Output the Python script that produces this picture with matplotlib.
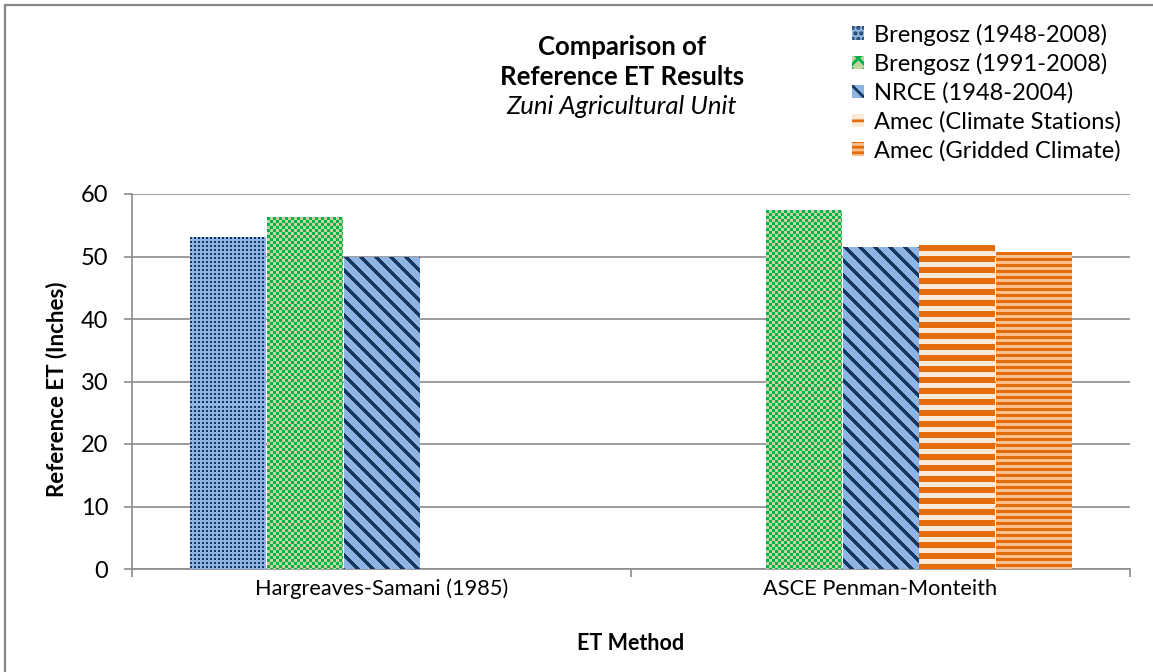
import numpy as np
import matplotlib.pyplot as plt
import matplotlib.colors as mcolors
from matplotlib.patches import Rectangle

plt.rcParams['font.family'] = ['Lato', 'DejaVu Sans']
plt.rcParams['hatch.linewidth'] = 2.0

# data
categories = ["Hargreaves-Samani (1985)", "ASCE Penman-Monteith"]
series_names = ["Brengosz (1948-2008)", "Brengosz (1991-2008)", "NRCE (1948-2004)",
                "Amec (Climate Stations)", "Amec (Gridded Climate)"]
brengosz_4808 = [53.0, np.nan]
brengosz_9108 = [56.3, 57.3]
nrce_4804 = [49.9, 51.5]
amec_stations = [np.nan, 51.8]
amec_gridded = [np.nan, 50.7]
values = [brengosz_4808, brengosz_9108, nrce_4804, amec_stations, amec_gridded]

# fill patterns: (light colour, dark colour, pattern kind, legend hatch)
styles = [
    ("#8db4e2", "#17375e", "dots", "..."),
    ("#c3d69b", "#00b050", "checker", "xx"),
    ("#8db4e2", "#17375e", "diag", "\\"),
    ("#fde9d9", "#e46c0a", "wide", "--"),
    ("#fac090", "#e46c0a", "narrow", "---"),
]


def pattern(kind, h, w, light, dark):
    r, c = np.mgrid[0:h, 0:w]
    if kind == "dots":
        mask = (r % 4 < 2) & (c % 4 < 2)
    elif kind == "checker":
        mask = (r // 3 + c // 3) % 2 == 0
    elif kind == "diag":
        mask = (c - r) % 15 < 5
    elif kind == "wide":
        mask = r % 11 < 6
    else:
        mask = r % 6 < 3
    lo = np.array(mcolors.to_rgb(light))
    hi = np.array(mcolors.to_rgb(dark))
    return np.where(mask[..., None], hi, lo)


fig = plt.figure(figsize=(11.53, 6.72), dpi=100)
ax = fig.add_axes([132 / 1153, 1 - 569 / 672, (1130 - 132) / 1153, (569 - 194) / 672])
ax.set_xlim(-0.5, 1.5)
ax.set_ylim(0, 60)

x = np.arange(len(categories))
w = 0.154
all_bars = []
for i, (name, vals) in enumerate(zip(series_names, values)):
    light, dark, kind, hatch = styles[i]
    plt.rcParams['hatch.color'] = dark
    bars = ax.bar(x + (i - 2) * w, vals, width=w * 0.985, color=light, edgecolor=dark,
                  linewidth=0, hatch=hatch, label=name, zorder=3)
    all_bars.append((bars, kind, light, dark))

# paint the bar patterns pixel by pixel on top of each bar
for bars, kind, light, dark in all_bars:
    for b in bars:
        h = b.get_height()
        if not np.isfinite(h) or h <= 0:
            continue
        x0, x1 = b.get_x(), b.get_x() + b.get_width()
        p0 = ax.transData.transform((x0, 0))
        p1 = ax.transData.transform((x1, h))
        wpx = max(1, int(round(p1[0] - p0[0])))
        hpx = max(1, int(round(p1[1] - p0[1])))
        img = pattern(kind, hpx, wpx, light, dark)
        ax.imshow(img, extent=(x0, x1, 0, h), aspect="auto", interpolation="nearest", zorder=4)

ax.set_xlim(-0.5, 1.5)
ax.set_ylim(0, 60)
ax.set_yticks(range(0, 61, 10))
ax.yaxis.grid(True, color="#8c8c8c", linewidth=1.2, zorder=0)
ax.set_axisbelow(True)
ax.set_xticks(x)
ax.set_xticklabels(categories, fontsize=15.7)
ax.set_xticks([-0.5, 0.5, 1.5], minor=True)
ax.tick_params(axis='x', which='major', length=0, pad=7)
ax.tick_params(axis='x', which='minor', length=6, color="#8c8c8c", width=1.2)
ax.tick_params(axis='y', length=6, color="#8c8c8c", width=1.2, labelsize=17, pad=11)
for s in ["top", "right"]:
    ax.spines[s].set_visible(False)
for s in ["left", "bottom"]:
    ax.spines[s].set_color("#8c8c8c")
    ax.spines[s].set_linewidth(1.2)

ax.set_ylabel("Reference ET (Inches)", fontsize=16, fontweight="bold")
ax.yaxis.set_label_coords(-0.065, 0.48)
ax.set_xlabel("ET Method", fontsize=15.5, fontweight="bold", labelpad=24)

fig.text(622 / 1153, 1 - 47 / 672, "Comparison of", ha="center", va="center",
         fontsize=18.5, fontweight="bold")
fig.text(622 / 1153, 1 - 77 / 672, "Reference ET Results", ha="center", va="center",
         fontsize=18.5, fontweight="bold")
fig.text(622 / 1153, 1 - 107 / 672, "Zuni Agricultural Unit", ha="center", va="center",
         fontsize=18.5, style="italic")

leg = fig.legend(loc="upper left", bbox_to_anchor=(843 / 1153, 1 - 14 / 672), frameon=False,
                 fontsize=17, handlelength=0.5, handleheight=0.5, handletextpad=0.4,
                 labelspacing=0.31, borderaxespad=0)

fig.patches.append(Rectangle((5 / 1153, -0.1), 1.2, 1 - 5 / 672 + 0.1, transform=fig.transFigure,
                             fill=False, edgecolor="#878787", linewidth=1.6))

fig.savefig("out.png", dpi=100)
